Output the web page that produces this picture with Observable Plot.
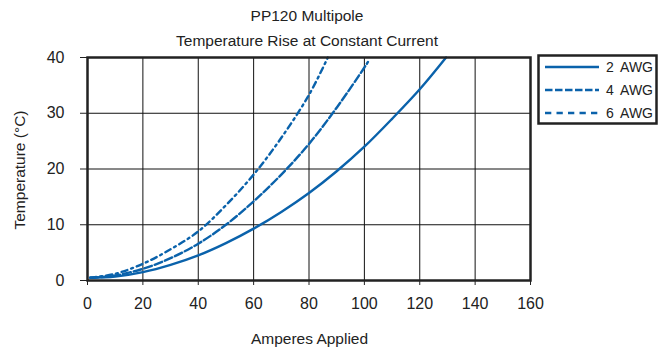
<!DOCTYPE html>
<html><head><meta charset="utf-8">
<script src="https://cdn.jsdelivr.net/npm/d3@7"></script>
<script src="https://cdn.jsdelivr.net/npm/@observablehq/plot@0.6"></script>
<style>
body{margin:0;background:#fff;}
#wrap{position:relative;width:666px;height:351px;font-family:"Liberation Sans",Arial,sans-serif;color:#222;}
.t{position:absolute;white-space:nowrap;}
</style></head><body>
<div id="wrap"></div>
<script>
const seriesNames = ["2  AWG", "4  AWG", "6  AWG"];
const amps2 = [1, 10, 20, 30, 40, 50, 60, 70, 80, 90, 100, 110, 120, 129.5];
const temp2 = [0.5, 0.7, 1.5, 2.8, 4.5, 6.7, 9.3, 12.3, 15.7, 19.6, 24.0, 29.0, 34.3, 40];
const amps4 = [1, 10, 20, 30, 40, 50, 60, 70, 80, 90, 100, 101.3];
const temp4 = [0.5, 0.9, 2.1, 4.0, 6.6, 10.0, 14.2, 19.0, 24.5, 31.0, 38.2, 39.2];
const amps6 = [1, 10, 20, 30, 40, 50, 60, 70, 80, 86.8];
const temp6 = [0.5, 1.2, 3.0, 5.6, 8.8, 13.5, 19.0, 25.6, 33.3, 40];
const xTicks = [0, 20, 40, 60, 80, 100, 120, 140, 160];
const yTicks = [0, 10, 20, 30, 40];
const title1 = "PP120 Multipole";
const title2 = "Temperature Rise at Constant Current";
const xLabel = "Amperes Applied";
const yLabel = "Temperature (°C)";

const blue = "#0a62ab";
const mk = (a, t) => a.map((x, i) => ({x, y: t[i]}));
const d2 = mk(amps2, temp2), d4 = mk(amps4, temp4), d6 = mk(amps6, temp6);
const dashes = [null, "8,3", "6,4,2,4"];
const font = '"Liberation Sans",Arial,sans-serif';

const chart = Plot.plot({
  width: 666, height: 351,
  marginLeft: 87, marginRight: 136, marginTop: 57, marginBottom: 71,
  style: {fontFamily: font, fontSize: "16px", color: "#222", background: "transparent"},
  x: {domain: [0, 160], ticks: xTicks, label: null},
  y: {domain: [0, 40], ticks: yTicks, label: null},
  marks: [
    Plot.gridX(xTicks, {stroke: "#111", strokeOpacity: 1, strokeWidth: 1}),
    Plot.gridY(yTicks, {stroke: "#111", strokeOpacity: 1, strokeWidth: 1}),
    Plot.axisX({ticks: xTicks, tickSize: 5, tickPadding: 12, stroke: "#222", label: null}),
    Plot.axisY({ticks: yTicks, tickSize: 7, tickPadding: 16, stroke: "#222", label: null}),
    Plot.line(d2, {x: "x", y: "y", curve: "catmull-rom", stroke: blue, strokeWidth: 2.4}),
    Plot.line(d4, {x: "x", y: "y", curve: "catmull-rom", stroke: blue, strokeWidth: 2.4, strokeDasharray: dashes[1]}),
    Plot.line(d6, {x: "x", y: "y", curve: "catmull-rom", stroke: blue, strokeWidth: 2.4, strokeDasharray: dashes[2]}),
    Plot.frame({stroke: "#222", strokeWidth: 2.5})
  ]
});
const wrap = document.getElementById("wrap");
wrap.appendChild(chart);

function addText(txt, css) {
  const d = document.createElement("div");
  d.className = "t"; d.textContent = txt;
  Object.assign(d.style, css);
  wrap.appendChild(d);
  return d;
}
addText(title1, {left: "0px", width: "614px", textAlign: "center", top: "7px", fontSize: "15.5px"});
addText(title2, {left: "0px", width: "614px", textAlign: "center", top: "32px", fontSize: "15.5px"});
addText(xLabel, {left: "0px", width: "619px", textAlign: "center", top: "330px", fontSize: "15.5px"});
addText(yLabel, {left: "20px", top: "170px", fontSize: "15.5px", transform: "translate(-50%,-50%) rotate(-90deg)"});

// legend
const leg = d3.select(wrap).append("svg")
  .attr("width", 122).attr("height", 72)
  .style("position", "absolute").style("left", "537px").style("top", "54px");
leg.append("rect").attr("x", 1.5).attr("y", 1.5).attr("width", 118).attr("height", 68)
  .attr("fill", "white").attr("stroke", "#222").attr("stroke-width", 2.5);
const legDash = [null, "7.5,2.5", "6.3,5.2"];
seriesNames.forEach((n, i) => {
  const yy = 13 + i * 23;
  const [num, unit] = n.split(/\s+/);
  leg.append("line").attr("x1", 8).attr("x2", 62).attr("y1", yy).attr("y2", yy)
    .attr("stroke", blue).attr("stroke-width", 2.4).attr("stroke-dasharray", legDash[i]);
  leg.append("text").attr("x", 69).attr("y", yy + 5).style("font-family", font)
    .style("font-size", "14px").attr("fill", "#222").text(num);
  leg.append("text").attr("x", 116).attr("y", yy + 5).attr("text-anchor", "end")
    .style("font-family", font).style("font-size", "14px").attr("fill", "#222").text(unit);
});
</script>
</body></html>
